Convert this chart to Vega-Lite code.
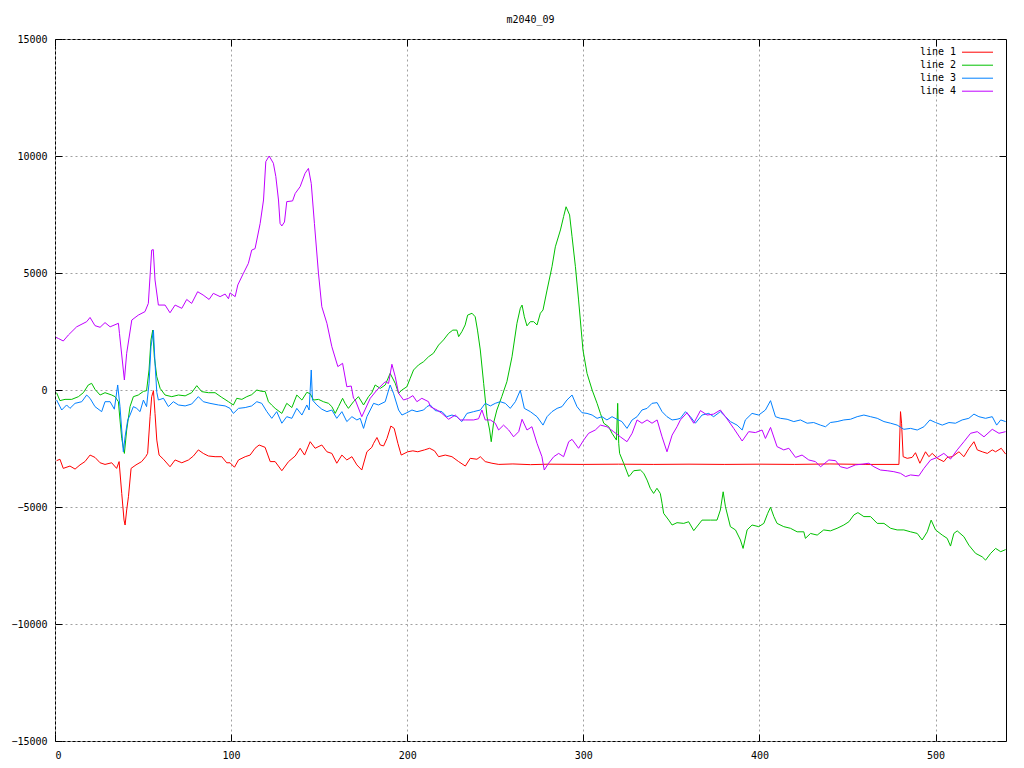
{
  "$schema": "https://vega.github.io/schema/vega-lite/v6.json",
  "width": 951,
  "height": 702,
  "autosize": {"type": "none"},
  "padding": {"left": 55, "top": 39, "right": 18, "bottom": 27},
  "background": "white",
  "title": {"text": "m2040_09", "font": "DejaVu Sans Mono", "fontSize": 10, "fontWeight": "normal", "color": "black", "offset": 9},
  "config": {
    "view": {"stroke": "black", "strokeWidth": 1},
    "axis": {"labelFont": "DejaVu Sans Mono", "labelFontSize": 10, "labelColor": "black", "domain": false, "tickColor": "black", "tickSize": -7, "tickWidth": 1, "title": null},
    "line": {"strokeWidth": 1, "interpolate": "linear"}
  },
  "data": {"values": [
    {"s":"line 1","x":0.9,"y":-3020},{"s":"line 1","x":2.8,"y":-2960},{"s":"line 1","x":4.7,"y":-3350},{"s":"line 1","x":8.5,"y":-3250},{"s":"line 1","x":11.4,"y":-3380},{"s":"line 1","x":14.2,"y":-3200},{"s":"line 1","x":17,"y":-3060},{"s":"line 1","x":19.9,"y":-2780},{"s":"line 1","x":22.7,"y":-2880},{"s":"line 1","x":25.6,"y":-3110},{"s":"line 1","x":28.4,"y":-3180},{"s":"line 1","x":32.2,"y":-3110},{"s":"line 1","x":35,"y":-3350},{"s":"line 1","x":36.4,"y":-3060},{"s":"line 1","x":37.9,"y":-4420},{"s":"line 1","x":39.2,"y":-5560},{"s":"line 1","x":39.8,"y":-5770},{"s":"line 1","x":40.7,"y":-5130},{"s":"line 1","x":41.7,"y":-4560},{"s":"line 1","x":43.2,"y":-3350},{"s":"line 1","x":46,"y":-3200},{"s":"line 1","x":49.2,"y":-3060},{"s":"line 1","x":51.5,"y":-2850},{"s":"line 1","x":52.6,"y":-2710},{"s":"line 1","x":54,"y":-1140},{"s":"line 1","x":54.9,"y":-285},{"s":"line 1","x":55.9,"y":-30},{"s":"line 1","x":56.8,"y":-1000},{"s":"line 1","x":57.8,"y":-2140},{"s":"line 1","x":59.1,"y":-2780},{"s":"line 1","x":61.6,"y":-2960},{"s":"line 1","x":65.3,"y":-3280},{"s":"line 1","x":68.2,"y":-2990},{"s":"line 1","x":72,"y":-3110},{"s":"line 1","x":75.8,"y":-2990},{"s":"line 1","x":78.6,"y":-2820},{"s":"line 1","x":81.4,"y":-2560},{"s":"line 1","x":84.2,"y":-2710},{"s":"line 1","x":87.1,"y":-2820},{"s":"line 1","x":90.9,"y":-2850},{"s":"line 1","x":94.7,"y":-2850},{"s":"line 1","x":97.5,"y":-3110},{"s":"line 1","x":99.4,"y":-3110},{"s":"line 1","x":101.9,"y":-3300},{"s":"line 1","x":104.2,"y":-2990},{"s":"line 1","x":108,"y":-2850},{"s":"line 1","x":110.8,"y":-2780},{"s":"line 1","x":113.6,"y":-2490},{"s":"line 1","x":115.9,"y":-2350},{"s":"line 1","x":119.3,"y":-2450},{"s":"line 1","x":122.2,"y":-3060},{"s":"line 1","x":125,"y":-3060},{"s":"line 1","x":128.8,"y":-3450},{"s":"line 1","x":132.6,"y":-3060},{"s":"line 1","x":136.4,"y":-2820},{"s":"line 1","x":139.2,"y":-2490},{"s":"line 1","x":141.7,"y":-2780},{"s":"line 1","x":144.9,"y":-2210},{"s":"line 1","x":147.7,"y":-2490},{"s":"line 1","x":151.5,"y":-2350},{"s":"line 1","x":154.4,"y":-2640},{"s":"line 1","x":157.2,"y":-2710},{"s":"line 1","x":160,"y":-3130},{"s":"line 1","x":162.9,"y":-2780},{"s":"line 1","x":165.7,"y":-2990},{"s":"line 1","x":168.6,"y":-2850},{"s":"line 1","x":171.4,"y":-3200},{"s":"line 1","x":174.2,"y":-3420},{"s":"line 1","x":177.1,"y":-2640},{"s":"line 1","x":179.9,"y":-2450},{"s":"line 1","x":180.9,"y":-2280},{"s":"line 1","x":182.8,"y":-2030},{"s":"line 1","x":184.7,"y":-2350},{"s":"line 1","x":186.6,"y":-2390},{"s":"line 1","x":188.5,"y":-2070},{"s":"line 1","x":190.7,"y":-1540},{"s":"line 1","x":192.6,"y":-1640},{"s":"line 1","x":194.7,"y":-2280},{"s":"line 1","x":196.6,"y":-2780},{"s":"line 1","x":200.3,"y":-2640},{"s":"line 1","x":203.2,"y":-2600},{"s":"line 1","x":206,"y":-2640},{"s":"line 1","x":209.8,"y":-2560},{"s":"line 1","x":212.7,"y":-2490},{"s":"line 1","x":215.5,"y":-2600},{"s":"line 1","x":217.8,"y":-2850},{"s":"line 1","x":221.6,"y":-2780},{"s":"line 1","x":225.4,"y":-2850},{"s":"line 1","x":229.2,"y":-3060},{"s":"line 1","x":233,"y":-3250},{"s":"line 1","x":235.8,"y":-2920},{"s":"line 1","x":239.6,"y":-2960},{"s":"line 1","x":241.5,"y":-2850},{"s":"line 1","x":244.3,"y":-3060},{"s":"line 1","x":248.1,"y":-3130},{"s":"line 1","x":252,"y":-3180},{"s":"line 1","x":260,"y":-3160},{"s":"line 1","x":270,"y":-3190},{"s":"line 1","x":280,"y":-3170},{"s":"line 1","x":300,"y":-3180},{"s":"line 1","x":320,"y":-3170},{"s":"line 1","x":340,"y":-3180},{"s":"line 1","x":360,"y":-3170},{"s":"line 1","x":380,"y":-3180},{"s":"line 1","x":400,"y":-3170},{"s":"line 1","x":420,"y":-3180},{"s":"line 1","x":440,"y":-3160},{"s":"line 1","x":460,"y":-3180},{"s":"line 1","x":479.2,"y":-3180},{"s":"line 1","x":480.1,"y":-925},{"s":"line 1","x":480.7,"y":-1420},{"s":"line 1","x":481.6,"y":-2850},{"s":"line 1","x":483.9,"y":-2920},{"s":"line 1","x":486.7,"y":-2880},{"s":"line 1","x":488.6,"y":-2680},{"s":"line 1","x":491.1,"y":-3130},{"s":"line 1","x":494.3,"y":-2640},{"s":"line 1","x":496.2,"y":-2850},{"s":"line 1","x":498.1,"y":-2710},{"s":"line 1","x":501,"y":-2920},{"s":"line 1","x":504.7,"y":-3060},{"s":"line 1","x":506.6,"y":-2880},{"s":"line 1","x":509.5,"y":-2850},{"s":"line 1","x":513.3,"y":-2640},{"s":"line 1","x":516.1,"y":-2850},{"s":"line 1","x":519,"y":-2490},{"s":"line 1","x":521.8,"y":-2210},{"s":"line 1","x":523.7,"y":-2560},{"s":"line 1","x":526.5,"y":-2640},{"s":"line 1","x":529.4,"y":-2710},{"s":"line 1","x":532.2,"y":-2560},{"s":"line 1","x":534.1,"y":-2640},{"s":"line 1","x":537.3,"y":-2490},{"s":"line 1","x":539.8,"y":-2740},

    {"s":"line 2","x":0.9,"y":-115},{"s":"line 2","x":2.8,"y":-455},{"s":"line 2","x":5.7,"y":-400},{"s":"line 2","x":9.5,"y":-400},{"s":"line 2","x":13.3,"y":-285},{"s":"line 2","x":16.1,"y":-115},{"s":"line 2","x":18.9,"y":215},{"s":"line 2","x":20.8,"y":285},{"s":"line 2","x":22.7,"y":30},{"s":"line 2","x":25.6,"y":-215},{"s":"line 2","x":28.4,"y":-115},{"s":"line 2","x":32.2,"y":-215},{"s":"line 2","x":34.1,"y":-285},{"s":"line 2","x":36,"y":-500},{"s":"line 2","x":36.9,"y":-1280},{"s":"line 2","x":37.9,"y":-2070},{"s":"line 2","x":39.4,"y":-2710},{"s":"line 2","x":40.7,"y":-1710},{"s":"line 2","x":42.6,"y":-710},{"s":"line 2","x":44.5,"y":-285},{"s":"line 2","x":47.3,"y":-215},{"s":"line 2","x":50.2,"y":-60},{"s":"line 2","x":52,"y":-30},{"s":"line 2","x":53.4,"y":855},{"s":"line 2","x":54.5,"y":2140},{"s":"line 2","x":55.5,"y":2560},{"s":"line 2","x":56.4,"y":1420},{"s":"line 2","x":57.8,"y":570},{"s":"line 2","x":59.7,"y":70},{"s":"line 2","x":62.5,"y":-215},{"s":"line 2","x":66.3,"y":-285},{"s":"line 2","x":70.1,"y":-215},{"s":"line 2","x":73.9,"y":-250},{"s":"line 2","x":77.6,"y":-115},{"s":"line 2","x":80.5,"y":185},{"s":"line 2","x":83.3,"y":-70},{"s":"line 2","x":87.1,"y":-115},{"s":"line 2","x":90.9,"y":-115},{"s":"line 2","x":94.7,"y":-315},{"s":"line 2","x":98.5,"y":-500},{"s":"line 2","x":101.3,"y":-640},{"s":"line 2","x":103.2,"y":-355},{"s":"line 2","x":106.1,"y":-400},{"s":"line 2","x":108.9,"y":-285},{"s":"line 2","x":111.7,"y":-200},{"s":"line 2","x":114.6,"y":0},{"s":"line 2","x":117.4,"y":-60},{"s":"line 2","x":119.3,"y":-60},{"s":"line 2","x":121.2,"y":-500},{"s":"line 2","x":123,"y":-640},{"s":"line 2","x":125,"y":-785},{"s":"line 2","x":128.8,"y":-1000},{"s":"line 2","x":131.6,"y":-570},{"s":"line 2","x":134.5,"y":-750},{"s":"line 2","x":137.3,"y":-215},{"s":"line 2","x":140.2,"y":-430},{"s":"line 2","x":143,"y":-100},{"s":"line 2","x":144.9,"y":-160},{"s":"line 2","x":146.8,"y":-430},{"s":"line 2","x":149.6,"y":-400},{"s":"line 2","x":152.4,"y":-500},{"s":"line 2","x":155.3,"y":-570},{"s":"line 2","x":157.2,"y":-710},{"s":"line 2","x":159.1,"y":-1000},{"s":"line 2","x":161,"y":-710},{"s":"line 2","x":163.3,"y":-355},{"s":"line 2","x":164.7,"y":-570},{"s":"line 2","x":166.6,"y":-785},{"s":"line 2","x":169.5,"y":-500},{"s":"line 2","x":172.3,"y":-285},{"s":"line 2","x":175.2,"y":-640},{"s":"line 2","x":178,"y":-285},{"s":"line 2","x":179.9,"y":-115},{"s":"line 2","x":181.8,"y":215},{"s":"line 2","x":184.7,"y":70},{"s":"line 2","x":187.5,"y":215},{"s":"line 2","x":190.3,"y":710},{"s":"line 2","x":193.2,"y":285},{"s":"line 2","x":195.1,"y":-140},{"s":"line 2","x":197,"y":0},{"s":"line 2","x":199.8,"y":140},{"s":"line 2","x":201.7,"y":500},{"s":"line 2","x":203.6,"y":855},{"s":"line 2","x":206.4,"y":1070},{"s":"line 2","x":209.3,"y":1210},{"s":"line 2","x":212.1,"y":1420},{"s":"line 2","x":214.9,"y":1570},{"s":"line 2","x":217.8,"y":1920},{"s":"line 2","x":220.6,"y":2140},{"s":"line 2","x":223.5,"y":2420},{"s":"line 2","x":225.9,"y":2560},{"s":"line 2","x":228.2,"y":2560},{"s":"line 2","x":229.2,"y":2280},{"s":"line 2","x":231,"y":2490},{"s":"line 2","x":232.9,"y":2780},{"s":"line 2","x":234.3,"y":3200},{"s":"line 2","x":236.8,"y":3280},{"s":"line 2","x":238.6,"y":3130},{"s":"line 2","x":239.9,"y":2560},{"s":"line 2","x":241.5,"y":1710},{"s":"line 2","x":243.4,"y":285},{"s":"line 2","x":245.3,"y":-1140},{"s":"line 2","x":246.8,"y":-1710},{"s":"line 2","x":247.7,"y":-2210},{"s":"line 2","x":249,"y":-1420},{"s":"line 2","x":250.9,"y":-855},{"s":"line 2","x":253.7,"y":-285},{"s":"line 2","x":256.6,"y":355},{"s":"line 2","x":259.5,"y":1420},{"s":"line 2","x":262.3,"y":2850},{"s":"line 2","x":264.2,"y":3490},{"s":"line 2","x":265.2,"y":3630},{"s":"line 2","x":266.5,"y":3130},{"s":"line 2","x":268,"y":2740},{"s":"line 2","x":269.9,"y":2920},{"s":"line 2","x":271.8,"y":2920},{"s":"line 2","x":273.7,"y":2780},{"s":"line 2","x":275.6,"y":3280},{"s":"line 2","x":277.1,"y":3420},{"s":"line 2","x":279.4,"y":4270},{"s":"line 2","x":282.2,"y":5270},{"s":"line 2","x":284.1,"y":6120},{"s":"line 2","x":287,"y":6840},{"s":"line 2","x":288.8,"y":7410},{"s":"line 2","x":290.2,"y":7830},{"s":"line 2","x":292.2,"y":7480},{"s":"line 2","x":293.6,"y":6550},{"s":"line 2","x":295.5,"y":5270},{"s":"line 2","x":297.3,"y":3850},{"s":"line 2","x":299.8,"y":1710},{"s":"line 2","x":302.1,"y":710},{"s":"line 2","x":305,"y":0},{"s":"line 2","x":307.8,"y":-570},{"s":"line 2","x":309.7,"y":-1000},{"s":"line 2","x":311.6,"y":-1420},{"s":"line 2","x":314.4,"y":-1570},{"s":"line 2","x":316.3,"y":-1850},{"s":"line 2","x":318.8,"y":-2140},{"s":"line 2","x":319.5,"y":-570},{"s":"line 2","x":320.1,"y":-2280},{"s":"line 2","x":320.6,"y":-2710},{"s":"line 2","x":322.9,"y":-3130},{"s":"line 2","x":325.8,"y":-3700},{"s":"line 2","x":326.7,"y":-3630},{"s":"line 2","x":328.6,"y":-3450},{"s":"line 2","x":332.4,"y":-3420},{"s":"line 2","x":334.3,"y":-3560},{"s":"line 2","x":336.2,"y":-3850},{"s":"line 2","x":338,"y":-4200},{"s":"line 2","x":339.9,"y":-4420},{"s":"line 2","x":341.8,"y":-4200},{"s":"line 2","x":343.7,"y":-4420},{"s":"line 2","x":344.7,"y":-4840},{"s":"line 2","x":345.6,"y":-5270},{"s":"line 2","x":348.5,"y":-5560},{"s":"line 2","x":350.4,"y":-5770},{"s":"line 2","x":353.2,"y":-5670},{"s":"line 2","x":357,"y":-5700},{"s":"line 2","x":359.8,"y":-5630},{"s":"line 2","x":362.7,"y":-6010},{"s":"line 2","x":367.4,"y":-5560},{"s":"line 2","x":372.2,"y":-5560},{"s":"line 2","x":375.9,"y":-5560},{"s":"line 2","x":377.8,"y":-5130},{"s":"line 2","x":379.4,"y":-4350},{"s":"line 2","x":380.7,"y":-4990},{"s":"line 2","x":383.5,"y":-5840},{"s":"line 2","x":386.4,"y":-5980},{"s":"line 2","x":389.2,"y":-6410},{"s":"line 2","x":390.7,"y":-6770},{"s":"line 2","x":393,"y":-5980},{"s":"line 2","x":395.8,"y":-5770},{"s":"line 2","x":399.6,"y":-5840},{"s":"line 2","x":402.5,"y":-5700},{"s":"line 2","x":404.7,"y":-5270},{"s":"line 2","x":406.3,"y":-5010},{"s":"line 2","x":408.2,"y":-5410},{"s":"line 2","x":410,"y":-5700},{"s":"line 2","x":413.8,"y":-5840},{"s":"line 2","x":417.6,"y":-5910},{"s":"line 2","x":421.4,"y":-6060},{"s":"line 2","x":425.2,"y":-6060},{"s":"line 2","x":426.1,"y":-6340},{"s":"line 2","x":429,"y":-6130},{"s":"line 2","x":432.8,"y":-6200},{"s":"line 2","x":436.5,"y":-5980},{"s":"line 2","x":440.3,"y":-6020},{"s":"line 2","x":444.1,"y":-5910},{"s":"line 2","x":447.9,"y":-5770},{"s":"line 2","x":450.8,"y":-5630},{"s":"line 2","x":453.6,"y":-5340},{"s":"line 2","x":455.9,"y":-5240},{"s":"line 2","x":459.3,"y":-5410},{"s":"line 2","x":463.1,"y":-5410},{"s":"line 2","x":466.9,"y":-5700},{"s":"line 2","x":470.7,"y":-5700},{"s":"line 2","x":474.5,"y":-5910},{"s":"line 2","x":478.2,"y":-5980},{"s":"line 2","x":482,"y":-5980},{"s":"line 2","x":485.8,"y":-6060},{"s":"line 2","x":489.6,"y":-6130},{"s":"line 2","x":492.4,"y":-6410},{"s":"line 2","x":495.3,"y":-6060},{"s":"line 2","x":497.5,"y":-5560},{"s":"line 2","x":500,"y":-5980},{"s":"line 2","x":503.8,"y":-6200},{"s":"line 2","x":506.6,"y":-6340},{"s":"line 2","x":508.5,"y":-6670},{"s":"line 2","x":510.4,"y":-6130},{"s":"line 2","x":512.3,"y":-6020},{"s":"line 2","x":516.1,"y":-6270},{"s":"line 2","x":518.9,"y":-6630},{"s":"line 2","x":522.7,"y":-6980},{"s":"line 2","x":526.5,"y":-7130},{"s":"line 2","x":528.4,"y":-7270},{"s":"line 2","x":531.3,"y":-6980},{"s":"line 2","x":534.1,"y":-6770},{"s":"line 2","x":537,"y":-6910},{"s":"line 2","x":539.8,"y":-6820},

    {"s":"line 3","x":0.9,"y":-427},{"s":"line 3","x":3.8,"y":-855},{"s":"line 3","x":6.6,"y":-640},{"s":"line 3","x":8.5,"y":-785},{"s":"line 3","x":11.4,"y":-570},{"s":"line 3","x":15.2,"y":-500},{"s":"line 3","x":18,"y":-215},{"s":"line 3","x":19.9,"y":-355},{"s":"line 3","x":22.7,"y":-710},{"s":"line 3","x":26.5,"y":-925},{"s":"line 3","x":28.4,"y":-500},{"s":"line 3","x":31.3,"y":-500},{"s":"line 3","x":33.7,"y":-820},{"s":"line 3","x":35.6,"y":215},{"s":"line 3","x":36.9,"y":-710},{"s":"line 3","x":37.9,"y":-1710},{"s":"line 3","x":38.8,"y":-2640},{"s":"line 3","x":39.8,"y":-2000},{"s":"line 3","x":41.3,"y":-1280},{"s":"line 3","x":42.6,"y":-1070},{"s":"line 3","x":44.5,"y":-710},{"s":"line 3","x":46.4,"y":-785},{"s":"line 3","x":48.3,"y":-925},{"s":"line 3","x":50.2,"y":-430},{"s":"line 3","x":52,"y":-710},{"s":"line 3","x":53.4,"y":285},{"s":"line 3","x":54.5,"y":1850},{"s":"line 3","x":55.9,"y":2560},{"s":"line 3","x":56.8,"y":1140},{"s":"line 3","x":57.8,"y":-100},{"s":"line 3","x":58.7,"y":-427},{"s":"line 3","x":61.6,"y":-355},{"s":"line 3","x":64.4,"y":-710},{"s":"line 3","x":67.2,"y":-500},{"s":"line 3","x":70.1,"y":-640},{"s":"line 3","x":73.9,"y":-680},{"s":"line 3","x":77.6,"y":-600},{"s":"line 3","x":81.4,"y":-285},{"s":"line 3","x":84.2,"y":-500},{"s":"line 3","x":88,"y":-570},{"s":"line 3","x":92.8,"y":-640},{"s":"line 3","x":96.6,"y":-680},{"s":"line 3","x":99.4,"y":-785},{"s":"line 3","x":101.3,"y":-1000},{"s":"line 3","x":104.2,"y":-785},{"s":"line 3","x":108,"y":-750},{"s":"line 3","x":111.7,"y":-680},{"s":"line 3","x":114.6,"y":-500},{"s":"line 3","x":117.4,"y":-570},{"s":"line 3","x":120.3,"y":-925},{"s":"line 3","x":123.1,"y":-1210},{"s":"line 3","x":125.9,"y":-925},{"s":"line 3","x":128.8,"y":-1420},{"s":"line 3","x":131.6,"y":-1140},{"s":"line 3","x":134.5,"y":-1210},{"s":"line 3","x":137.3,"y":-785},{"s":"line 3","x":140.2,"y":-1070},{"s":"line 3","x":143,"y":-640},{"s":"line 3","x":144.3,"y":-855},{"s":"line 3","x":145.5,"y":855},{"s":"line 3","x":146.2,"y":-430},{"s":"line 3","x":148.7,"y":-640},{"s":"line 3","x":151.5,"y":-820},{"s":"line 3","x":154.4,"y":-925},{"s":"line 3","x":157.2,"y":-855},{"s":"line 3","x":160,"y":-1210},{"s":"line 3","x":162.9,"y":-925},{"s":"line 3","x":165.7,"y":-1350},{"s":"line 3","x":168.6,"y":-1140},{"s":"line 3","x":171.4,"y":-1280},{"s":"line 3","x":173.3,"y":-1210},{"s":"line 3","x":175.2,"y":-1640},{"s":"line 3","x":177.1,"y":-1140},{"s":"line 3","x":179,"y":-855},{"s":"line 3","x":180.9,"y":-570},{"s":"line 3","x":183.7,"y":-640},{"s":"line 3","x":187.5,"y":-500},{"s":"line 3","x":190.3,"y":215},{"s":"line 3","x":192.2,"y":-140},{"s":"line 3","x":195.1,"y":-855},{"s":"line 3","x":197,"y":-1070},{"s":"line 3","x":199.8,"y":-970},{"s":"line 3","x":202.7,"y":-855},{"s":"line 3","x":205.5,"y":-925},{"s":"line 3","x":209.3,"y":-855},{"s":"line 3","x":211.2,"y":-710},{"s":"line 3","x":213.1,"y":-640},{"s":"line 3","x":215.9,"y":-880},{"s":"line 3","x":219.7,"y":-925},{"s":"line 3","x":222.5,"y":-1140},{"s":"line 3","x":225.4,"y":-1070},{"s":"line 3","x":228.2,"y":-1140},{"s":"line 3","x":231,"y":-1350},{"s":"line 3","x":233.9,"y":-1000},{"s":"line 3","x":237.7,"y":-925},{"s":"line 3","x":241.5,"y":-855},{"s":"line 3","x":244.3,"y":-570},{"s":"line 3","x":247.2,"y":-680},{"s":"line 3","x":250,"y":-570},{"s":"line 3","x":252.8,"y":-500},{"s":"line 3","x":255.7,"y":-570},{"s":"line 3","x":258.5,"y":-785},{"s":"line 3","x":261.4,"y":-500},{"s":"line 3","x":264.2,"y":-15},{"s":"line 3","x":266.5,"y":-785},{"s":"line 3","x":269.9,"y":-925},{"s":"line 3","x":273.7,"y":-1140},{"s":"line 3","x":277.1,"y":-1500},{"s":"line 3","x":279.4,"y":-1140},{"s":"line 3","x":282.2,"y":-925},{"s":"line 3","x":285.1,"y":-785},{"s":"line 3","x":287.9,"y":-710},{"s":"line 3","x":290.7,"y":-427},{"s":"line 3","x":293.6,"y":-215},{"s":"line 3","x":296.4,"y":-710},{"s":"line 3","x":299.2,"y":-970},{"s":"line 3","x":302.1,"y":-1000},{"s":"line 3","x":305,"y":-1070},{"s":"line 3","x":307.8,"y":-1210},{"s":"line 3","x":310.6,"y":-1140},{"s":"line 3","x":313.4,"y":-1280},{"s":"line 3","x":316.3,"y":-1140},{"s":"line 3","x":319.1,"y":-1250},{"s":"line 3","x":321.9,"y":-1350},{"s":"line 3","x":324.8,"y":-1640},{"s":"line 3","x":327.7,"y":-1280},{"s":"line 3","x":330.5,"y":-1140},{"s":"line 3","x":333.3,"y":-855},{"s":"line 3","x":336.2,"y":-785},{"s":"line 3","x":339,"y":-570},{"s":"line 3","x":341.9,"y":-540},{"s":"line 3","x":344.7,"y":-925},{"s":"line 3","x":347.5,"y":-1140},{"s":"line 3","x":350.4,"y":-1280},{"s":"line 3","x":353.2,"y":-1250},{"s":"line 3","x":355.1,"y":-1210},{"s":"line 3","x":358,"y":-925},{"s":"line 3","x":360.8,"y":-1140},{"s":"line 3","x":363.6,"y":-1420},{"s":"line 3","x":367.4,"y":-1070},{"s":"line 3","x":371.2,"y":-1000},{"s":"line 3","x":374,"y":-1140},{"s":"line 3","x":377.8,"y":-925},{"s":"line 3","x":380.7,"y":-1140},{"s":"line 3","x":383.5,"y":-1350},{"s":"line 3","x":387.3,"y":-1500},{"s":"line 3","x":390.2,"y":-1710},{"s":"line 3","x":392,"y":-1280},{"s":"line 3","x":395.8,"y":-1000},{"s":"line 3","x":399.6,"y":-1070},{"s":"line 3","x":403.4,"y":-855},{"s":"line 3","x":406.3,"y":-455},{"s":"line 3","x":409.1,"y":-1140},{"s":"line 3","x":411.9,"y":-1210},{"s":"line 3","x":415.7,"y":-1250},{"s":"line 3","x":419.5,"y":-1350},{"s":"line 3","x":423.3,"y":-1280},{"s":"line 3","x":427.1,"y":-1420},{"s":"line 3","x":430.8,"y":-1390},{"s":"line 3","x":434.6,"y":-1500},{"s":"line 3","x":437.5,"y":-1570},{"s":"line 3","x":440.3,"y":-1390},{"s":"line 3","x":444.1,"y":-1350},{"s":"line 3","x":447.9,"y":-1280},{"s":"line 3","x":451.7,"y":-1250},{"s":"line 3","x":455.5,"y":-1140},{"s":"line 3","x":459.3,"y":-1070},{"s":"line 3","x":463.1,"y":-1140},{"s":"line 3","x":466.9,"y":-1210},{"s":"line 3","x":470.7,"y":-1350},{"s":"line 3","x":474.5,"y":-1420},{"s":"line 3","x":478.2,"y":-1500},{"s":"line 3","x":482,"y":-1680},{"s":"line 3","x":485.8,"y":-1640},{"s":"line 3","x":489.6,"y":-1710},{"s":"line 3","x":493.4,"y":-1570},{"s":"line 3","x":496.8,"y":-1280},{"s":"line 3","x":500,"y":-1390},{"s":"line 3","x":503.8,"y":-1500},{"s":"line 3","x":507.6,"y":-1390},{"s":"line 3","x":511.3,"y":-1420},{"s":"line 3","x":515.1,"y":-1280},{"s":"line 3","x":518.9,"y":-1210},{"s":"line 3","x":521.8,"y":-1030},{"s":"line 3","x":524.6,"y":-1140},{"s":"line 3","x":528.4,"y":-1210},{"s":"line 3","x":532.2,"y":-1140},{"s":"line 3","x":534.7,"y":-1500},{"s":"line 3","x":537,"y":-1280},{"s":"line 3","x":539.8,"y":-1350},

    {"s":"line 4","x":0.5,"y":2250},{"s":"line 4","x":2,"y":2200},{"s":"line 4","x":4.7,"y":2094},{"s":"line 4","x":7.6,"y":2350},{"s":"line 4","x":12.3,"y":2700},{"s":"line 4","x":18,"y":2920},{"s":"line 4","x":19.9,"y":3100},{"s":"line 4","x":22.7,"y":2750},{"s":"line 4","x":25.6,"y":2680},{"s":"line 4","x":28.4,"y":2880},{"s":"line 4","x":31.3,"y":2700},{"s":"line 4","x":36,"y":2850},{"s":"line 4","x":36.6,"y":2420},{"s":"line 4","x":39.4,"y":427},{"s":"line 4","x":40.7,"y":1570},{"s":"line 4","x":43.6,"y":2990},{"s":"line 4","x":47.3,"y":3200},{"s":"line 4","x":51.1,"y":3350},{"s":"line 4","x":53,"y":3700},{"s":"line 4","x":54.9,"y":5980},{"s":"line 4","x":55.8,"y":6000},{"s":"line 4","x":56.8,"y":4700},{"s":"line 4","x":58.7,"y":3630},{"s":"line 4","x":62.5,"y":3630},{"s":"line 4","x":65.3,"y":3300},{"s":"line 4","x":68.2,"y":3630},{"s":"line 4","x":72,"y":3490},{"s":"line 4","x":74.8,"y":3870},{"s":"line 4","x":77.6,"y":3700},{"s":"line 4","x":81,"y":4200},{"s":"line 4","x":84.1,"y":4060},{"s":"line 4","x":87.5,"y":3870},{"s":"line 4","x":89.9,"y":4130},{"s":"line 4","x":93.75,"y":3990},{"s":"line 4","x":96.6,"y":4100},{"s":"line 4","x":98.5,"y":3900},{"s":"line 4","x":99.4,"y":4150},{"s":"line 4","x":102.3,"y":3990},{"s":"line 4","x":103.8,"y":4490},{"s":"line 4","x":107,"y":4990},{"s":"line 4","x":109.8,"y":5410},{"s":"line 4","x":111.7,"y":5980},{"s":"line 4","x":113.6,"y":6040},{"s":"line 4","x":114.6,"y":6410},{"s":"line 4","x":116.5,"y":7120},{"s":"line 4","x":118.4,"y":8120},{"s":"line 4","x":119.7,"y":9760},{"s":"line 4","x":121.6,"y":10000},{"s":"line 4","x":124,"y":9690},{"s":"line 4","x":125.4,"y":9120},{"s":"line 4","x":126.9,"y":8120},{"s":"line 4","x":127.8,"y":7120},{"s":"line 4","x":128.8,"y":7010},{"s":"line 4","x":130.3,"y":7180},{"s":"line 4","x":131.6,"y":8050},{"s":"line 4","x":134.9,"y":8080},{"s":"line 4","x":136.4,"y":8400},{"s":"line 4","x":139.2,"y":8690},{"s":"line 4","x":142,"y":9260},{"s":"line 4","x":143.9,"y":9470},{"s":"line 4","x":145.5,"y":8830},{"s":"line 4","x":147.3,"y":7120},{"s":"line 4","x":149.6,"y":4990},{"s":"line 4","x":151.5,"y":3560},{"s":"line 4","x":154.4,"y":2850},{"s":"line 4","x":157.2,"y":1850},{"s":"line 4","x":160.6,"y":1000},{"s":"line 4","x":163.3,"y":1140},{"s":"line 4","x":165.7,"y":140},{"s":"line 4","x":168.2,"y":170},{"s":"line 4","x":169.5,"y":-355},{"s":"line 4","x":170.5,"y":-427},{"s":"line 4","x":174.2,"y":-1140},{"s":"line 4","x":176,"y":-850},{"s":"line 4","x":179,"y":-355},{"s":"line 4","x":182.8,"y":0},{"s":"line 4","x":187.5,"y":355},{"s":"line 4","x":189.4,"y":280},{"s":"line 4","x":191.3,"y":1100},{"s":"line 4","x":193.2,"y":570},{"s":"line 4","x":195.1,"y":-140},{"s":"line 4","x":197.9,"y":-427},{"s":"line 4","x":200.8,"y":-355},{"s":"line 4","x":203.2,"y":-240},{"s":"line 4","x":205.5,"y":-500},{"s":"line 4","x":208.3,"y":-355},{"s":"line 4","x":212.1,"y":-500},{"s":"line 4","x":213.1,"y":-712},{"s":"line 4","x":216.9,"y":-855},{"s":"line 4","x":219.7,"y":-1000},{"s":"line 4","x":223.5,"y":-1250},{"s":"line 4","x":227.3,"y":-1070},{"s":"line 4","x":230.1,"y":-1280},{"s":"line 4","x":233,"y":-1280},{"s":"line 4","x":237.7,"y":-1280},{"s":"line 4","x":240.5,"y":-1230},{"s":"line 4","x":242.4,"y":-855},{"s":"line 4","x":244.3,"y":-1280},{"s":"line 4","x":247.2,"y":-1280},{"s":"line 4","x":250,"y":-1420},{"s":"line 4","x":251.9,"y":-1710},{"s":"line 4","x":254.7,"y":-1500},{"s":"line 4","x":257.6,"y":-1710},{"s":"line 4","x":260.4,"y":-2000},{"s":"line 4","x":263.3,"y":-1780},{"s":"line 4","x":265.2,"y":-1250},{"s":"line 4","x":268,"y":-1710},{"s":"line 4","x":270.8,"y":-1570},{"s":"line 4","x":273.7,"y":-2280},{"s":"line 4","x":276.5,"y":-2850},{"s":"line 4","x":277.8,"y":-3420},{"s":"line 4","x":280.3,"y":-3130},{"s":"line 4","x":283.2,"y":-2850},{"s":"line 4","x":286,"y":-2710},{"s":"line 4","x":288.8,"y":-2850},{"s":"line 4","x":291.7,"y":-2210},{"s":"line 4","x":293.6,"y":-2110},{"s":"line 4","x":297.3,"y":-2490},{"s":"line 4","x":300.2,"y":-2140},{"s":"line 4","x":303,"y":-1850},{"s":"line 4","x":306.8,"y":-1710},{"s":"line 4","x":309.7,"y":-1500},{"s":"line 4","x":313.4,"y":-1570},{"s":"line 4","x":317.2,"y":-1780},{"s":"line 4","x":321,"y":-2000},{"s":"line 4","x":324.8,"y":-2210},{"s":"line 4","x":327.7,"y":-1850},{"s":"line 4","x":330.5,"y":-1280},{"s":"line 4","x":333.3,"y":-1420},{"s":"line 4","x":336.2,"y":-1280},{"s":"line 4","x":339,"y":-1420},{"s":"line 4","x":341.9,"y":-1280},{"s":"line 4","x":344.7,"y":-2000},{"s":"line 4","x":347.5,"y":-2640},{"s":"line 4","x":350.4,"y":-1930},{"s":"line 4","x":353.2,"y":-1570},{"s":"line 4","x":355.1,"y":-1280},{"s":"line 4","x":358.9,"y":-970},{"s":"line 4","x":362.7,"y":-1420},{"s":"line 4","x":366.5,"y":-880},{"s":"line 4","x":370.3,"y":-1070},{"s":"line 4","x":374,"y":-1030},{"s":"line 4","x":377.8,"y":-855},{"s":"line 4","x":380.7,"y":-1140},{"s":"line 4","x":385.4,"y":-1640},{"s":"line 4","x":390.2,"y":-2180},{"s":"line 4","x":393.9,"y":-1780},{"s":"line 4","x":397.7,"y":-1820},{"s":"line 4","x":401.5,"y":-1710},{"s":"line 4","x":403.4,"y":-2070},{"s":"line 4","x":406.3,"y":-1600},{"s":"line 4","x":410,"y":-2420},{"s":"line 4","x":413.8,"y":-2560},{"s":"line 4","x":416.7,"y":-2490},{"s":"line 4","x":420.5,"y":-2880},{"s":"line 4","x":424.2,"y":-2780},{"s":"line 4","x":428,"y":-2990},{"s":"line 4","x":431.8,"y":-3060},{"s":"line 4","x":434.7,"y":-3280},{"s":"line 4","x":439.4,"y":-2990},{"s":"line 4","x":443.2,"y":-3020},{"s":"line 4","x":446,"y":-3280},{"s":"line 4","x":449.8,"y":-3350},{"s":"line 4","x":454.5,"y":-3200},{"s":"line 4","x":458.3,"y":-3170},{"s":"line 4","x":462.1,"y":-3130},{"s":"line 4","x":465,"y":-3280},{"s":"line 4","x":468.7,"y":-3420},{"s":"line 4","x":472.5,"y":-3450},{"s":"line 4","x":476.3,"y":-3490},{"s":"line 4","x":480.1,"y":-3560},{"s":"line 4","x":483,"y":-3700},{"s":"line 4","x":485.8,"y":-3630},{"s":"line 4","x":490.5,"y":-3670},{"s":"line 4","x":493.4,"y":-3350},{"s":"line 4","x":497.2,"y":-2990},{"s":"line 4","x":501,"y":-2880},{"s":"line 4","x":504.7,"y":-2710},{"s":"line 4","x":508.5,"y":-2950},{"s":"line 4","x":512.3,"y":-2560},{"s":"line 4","x":516.1,"y":-2210},{"s":"line 4","x":519.9,"y":-1850},{"s":"line 4","x":523.7,"y":-1780},{"s":"line 4","x":527.5,"y":-2000},{"s":"line 4","x":532.2,"y":-1680},{"s":"line 4","x":536,"y":-1850},{"s":"line 4","x":539.8,"y":-1780}
  ]},
  "layer": [
    {
      "mark": {"type": "line", "strokeWidth": 1},
      "encoding": {
        "x": {"field": "x", "type": "quantitative", "scale": {"domain": [0, 540], "nice": false, "zero": false},
              "axis": {"orient": "bottom", "values": [0, 100, 200, 300, 400, 500], "grid": true, "gridColor": "#a0a0a0", "gridDash": [2, 3], "gridWidth": 1, "labelPadding": 16}},
        "y": {"field": "y", "type": "quantitative", "scale": {"domain": [-15000, 15000], "nice": false},
              "axis": {"orient": "left", "values": [-15000, -10000, -5000, 0, 5000, 10000, 15000], "grid": true, "gridColor": "#a0a0a0", "gridDash": [2, 3], "gridWidth": 1, "labelPadding": 15, "format": "d"}},
        "color": {"field": "s", "type": "nominal",
                  "scale": {"domain": ["line 1", "line 2", "line 3", "line 4"], "range": ["#ff0000", "#00c000", "#0080ff", "#c000ff"]},
                  "legend": {"orient": "none", "legendX": 917, "legendY": 7.7, "title": null, "symbolType": "M-3.1,0H3.1", "symbolSize": 100, "symbolStrokeWidth": 1, "symbolFillColor": "transparent", "labelAlign": "right", "labelOffset": -27, "labelFont": "DejaVu Sans Mono", "labelFontSize": 10, "labelColor": "black", "rowPadding": 2,
                             "encode": {"symbols": {"update": {"stroke": {"scale": "color", "field": "value"}, "fill": {"value": "transparent"}}}}}},
        "order": {"field": "x", "type": "quantitative"}
      }
    },
    {
      "mark": {"type": "line", "opacity": 0},
      "encoding": {
        "x": {"field": "x", "type": "quantitative", "axis": {"orient": "top", "values": [0, 100, 200, 300, 400, 500], "labels": false, "grid": false}},
        "y": {"field": "y", "type": "quantitative", "axis": {"orient": "right", "values": [-15000, -10000, -5000, 0, 5000, 10000, 15000], "labels": false, "grid": false}},
        "detail": {"field": "s", "type": "nominal"}
      }
    }
  ],
  "resolve": {"axis": {"x": "independent", "y": "independent"}}
}
